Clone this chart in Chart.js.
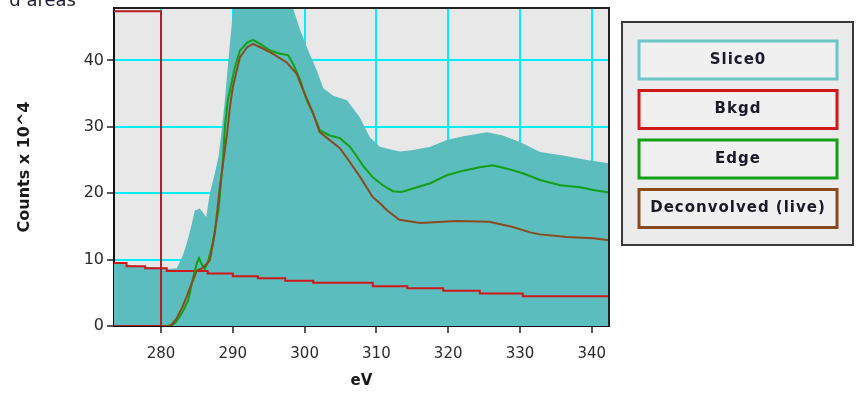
<!DOCTYPE html>
<html>
<head>
<meta charset="utf-8">
<script src="https://cdn.jsdelivr.net/npm/chart.js@4.4.1/dist/chart.umd.min.js"></script>
<style>
  html, body { margin: 0; padding: 0; background: #fff; }
  #wrap { width: 864px; height: 404px; position: relative; }
</style>
</head>
<body>
<div id="wrap"><canvas id="spec"></canvas></div>
<script>
// Energy loss axis bounds (eV) and count range (x 10^4)
const E_MIN = 273.45;
const E_MAX = 342.4;
const C_MAX = 47.9;

const xTicks = [280, 290, 300, 310, 320, 330, 340];
const yTicks = [0, 10, 20, 30, 40];

// Slice0 - raw spectrum
const sliceE = [273.45, 275, 277, 279, 281, 282.2, 283, 283.6, 284.2, 284.7, 285.4, 286.3, 286.8, 287.5,
  288, 288.3, 288.9, 289.3, 289.9, 290.3, 292, 295, 297.5, 298.2, 299.4, 300.5, 301.7, 302.6, 304,
  305.9, 307.7, 309.1, 310.5, 312.3, 313.3, 315.1, 317.5, 319.8, 322.1, 325.4, 327.6, 330, 332.8,
  336, 339.3, 342.4];
const sliceC = [9.5, 9.3, 9.0, 8.8, 8.6, 8.7, 10.5, 12.5, 15, 17.4, 17.7, 16.4, 20, 23,
  25.5, 28, 34, 39, 46, 50, 54, 55, 52, 48.5, 44.5, 41.5, 38.5, 35.8, 34.7,
  34, 31.4, 28.4, 27, 26.5, 26.3, 26.5, 27, 28, 28.6, 29.2, 28.7, 27.7, 26.2,
  25.7, 25, 24.5];

// Bkgd - power-law background, drawn as steps
const bkgdE = [273.45, 275.2, 277.8, 280.8, 286.5, 290, 293.5, 297.3, 301.2, 309.5, 314.3, 319.3, 324.4, 330.4, 342.4];
const bkgdC = [9.5, 9.0, 8.7, 8.3, 7.9, 7.5, 7.2, 6.8, 6.5, 6.0, 5.7, 5.3, 4.9, 4.5, 4.5];

// Edge - background-subtracted edge
const edgeE = [273.45, 281.3, 282, 282.6, 283.2, 283.8, 284.5, 285, 285.3, 285.7, 286.1, 286.5, 287.2, 287.6,
  288, 288.3, 288.6, 288.9, 289.3, 289.9, 290.3, 291, 292, 292.8, 293.8, 295.2, 296.6, 297.7, 298.4,
  299.4, 300.3, 301.2, 302.1, 303.5, 304.9, 306.3, 307.3, 308.1, 309.5, 310.9, 312.3, 313.5, 315.1,
  317.5, 319.8, 322.1, 324.4, 326.2, 328.2, 330.4, 332.8, 335.6, 338.4, 340.2, 342.4];
const edgeC = [0, 0, 0.5, 1.4, 2.5, 3.9, 7.4, 9.5, 10.2, 9.2, 8.6, 9.5, 12.5, 15,
  17.4, 21, 24.5, 30, 34, 37, 39, 41.5, 42.7, 43.1, 42.5, 41.5, 41, 40.8, 39.5,
  37, 34, 32, 29.5, 28.7, 28.3, 27, 25.5, 24.2, 22.4, 21.2, 20.3, 20.2, 20.7,
  21.5, 22.7, 23.4, 23.9, 24.2, 23.7, 23, 22, 21.2, 20.9, 20.5, 20.1];

// Deconvolved (live)
const deconE = [273.45, 281, 281.5, 282.2, 283, 283.6, 284.3, 285, 285.8, 286.8, 287.5, 288.2, 288.7, 289.2,
  289.6, 290, 291, 292, 292.8, 294.2, 295.6, 297.5, 298.9, 299.8, 301.2, 302.1, 303.5, 304.9, 305.9,
  307.7, 309.5, 310.5, 311.5, 313.2, 316.1, 321.2, 325.7, 329, 331.4, 332.8, 336.5, 340.2, 342.4];
const deconC = [0, 0, 0.2, 1.2, 2.9, 4.5, 6.5, 8.4, 8.7, 9.9, 14, 21, 25, 29,
  33, 36, 40.5, 42, 42.5, 41.8, 41, 39.7, 38, 35.5, 32, 29.2, 28, 26.8, 25.3,
  22.5, 19.4, 18.5, 17.4, 16, 15.5, 15.8, 15.7, 14.9, 14.1, 13.8, 13.4, 13.2, 12.9];

// Background fit window (left of the edge onset)
const fitWinE = [E_MIN, 280, 280, E_MIN];
const fitWinC = [47.4, 47.4, 0, 0];

const seriesNames = ['Slice0', 'Bkgd', 'Edge', 'Deconvolved (live)'];

const toPoints = (xs, ys) => xs.map((x, i) => ({ x, y: ys[i] }));

const FONT = '"DejaVu Sans", sans-serif';

// light grey plot face, top/right frame, cut-off heading
const plotFrame = {
  id: 'plotFrame',
  beforeDraw(chart) {
    const { ctx, chartArea: a } = chart;
    ctx.save();
    ctx.fillStyle = '#e8e8e8';
    ctx.fillRect(a.left, a.top, a.right - a.left, a.bottom - a.top);
    ctx.restore();
  },
  afterDatasetsDraw(chart) {
    const { ctx, chartArea: a } = chart;
    ctx.save();
    ctx.strokeStyle = '#222';
    ctx.lineWidth = 2;
    ctx.beginPath();
    ctx.moveTo(a.left, a.top);
    ctx.lineTo(a.right, a.top);
    ctx.lineTo(a.right, a.bottom);
    ctx.stroke();
    ctx.restore();
  },
  afterDraw(chart) {
    const ctx = chart.ctx;
    ctx.save();
    ctx.fillStyle = '#1c1c30';
    ctx.font = '18px ' + FONT;
    ctx.textAlign = 'right';
    ctx.textBaseline = 'alphabetic';
    ctx.fillText('d areas', 76, 6);
    ctx.restore();
  }
};

// boxed legend on the right
const boxLegend = {
  id: 'boxLegend',
  afterDraw(chart) {
    const ctx = chart.ctx;
    ctx.save();
    ctx.fillStyle = '#ebebeb';
    ctx.fillRect(622, 22, 231, 223);
    ctx.strokeStyle = '#3a3a3a';
    ctx.lineWidth = 2;
    ctx.strokeRect(622, 22, 231, 223);
    const items = chart.data.datasets.filter(d => d.legendColor);
    items.sort((p, q) => seriesNames.indexOf(p.label) - seriesNames.indexOf(q.label));
    items.forEach((ds, i) => {
      const y = 41 + i * 49.5;
      ctx.fillStyle = '#f0f0f0';
      ctx.fillRect(639, y, 198, 38);
      ctx.strokeStyle = ds.legendColor;
      ctx.lineWidth = 3;
      ctx.strokeRect(639, y, 198, 38);
      ctx.fillStyle = '#1a1a28';
      ctx.font = 'bold 15px ' + FONT;
      ctx.textAlign = 'center';
      ctx.textBaseline = 'middle';
      ctx.letterSpacing = '1px';
      ctx.fillText(ds.label, 738, y + 19);
      ctx.letterSpacing = '0px';
    });
    ctx.restore();
  }
};

// keep the plot box fixed: no extra room for end labels
const noLabelPad = s => { s.paddingTop = 0; s.paddingBottom = 0; s.paddingLeft = 0; s.paddingRight = 0; };

new Chart(document.getElementById('spec'), {
  type: 'line',
  data: {
    datasets: [
      {
        label: seriesNames[0],
        data: toPoints(sliceE, sliceC),
        backgroundColor: '#5bbdbd',
        borderWidth: 0,
        fill: 'origin',
        pointRadius: 0,
        order: 5,
        legendColor: '#6cc8c8'
      },
      {
        label: seriesNames[1],
        data: toPoints(bkgdE, bkgdC),
        borderColor: '#d01818',
        borderWidth: 2,
        stepped: true,
        fill: false,
        pointRadius: 0,
        order: 3,
        legendColor: '#d01818'
      },
      {
        label: seriesNames[2],
        data: toPoints(edgeE, edgeC),
        borderColor: '#14a014',
        borderWidth: 2,
        fill: false,
        pointRadius: 0,
        order: 2,
        legendColor: '#14a014'
      },
      {
        label: seriesNames[3],
        data: toPoints(deconE, deconC),
        borderColor: '#8b4a1e',
        borderWidth: 2,
        fill: false,
        pointRadius: 0,
        order: 1,
        legendColor: '#8b4a1e'
      },
      {
        label: 'window',
        data: toPoints(fitWinE, fitWinC),
        borderColor: '#b41e1e',
        borderWidth: 2,
        fill: false,
        pointRadius: 0,
        order: 0
      }
    ]
  },
  options: {
    responsive: true,
    maintainAspectRatio: false,
    animation: false,
    layout: { padding: { left: 0, right: 255, top: 8, bottom: 14 } },
    plugins: {
      legend: { display: false },
      tooltip: { enabled: false }
    },
    scales: {
      x: {
        type: 'linear',
        min: E_MIN,
        max: E_MAX,
        afterBuildTicks: s => { s.ticks = xTicks.map(v => ({ value: v })); },
        afterFit: s => { s.height = 64; noLabelPad(s); },
        grid: { color: '#00eeff', lineWidth: 2, tickColor: '#222', tickLength: 7, tickWidth: 1.5 },
        border: { color: '#111', width: 2 },
        ticks: { color: '#2b2b2b', font: { family: FONT, size: 15 }, padding: 12, maxRotation: 0 },
        title: {
          display: true, text: 'eV', color: '#1a1a1a', padding: 0,
          font: { family: FONT, size: 15, weight: 'bold' }
        }
      },
      y: {
        min: 0,
        max: C_MAX,
        afterBuildTicks: s => { s.ticks = yTicks.map(v => ({ value: v })); },
        afterFit: s => { s.width = 114; noLabelPad(s); },
        grid: { color: '#00eeff', lineWidth: 2, tickColor: '#222', tickLength: 7, tickWidth: 1.5 },
        border: { color: '#111', width: 2 },
        ticks: { color: '#2b2b2b', font: { family: FONT, size: 16 }, padding: 3 },
        title: {
          display: true, text: 'Counts x 10^4', color: '#1a1a1a', padding: { top: 15 },
          font: { family: FONT, size: 16, weight: 'bold' }
        }
      }
    }
  },
  plugins: [plotFrame, boxLegend]
});
</script>
</body>
</html>
